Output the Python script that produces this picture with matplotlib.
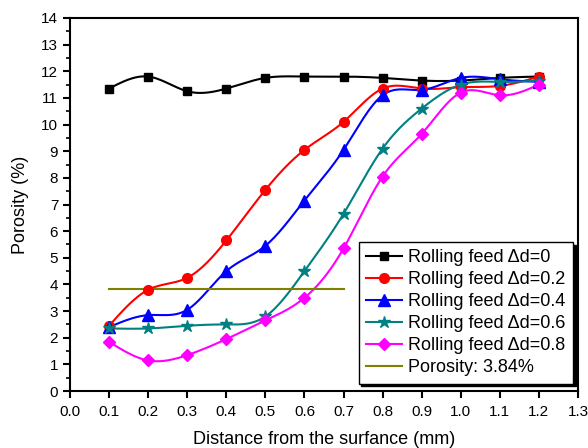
import numpy as np
import matplotlib
matplotlib.use("Agg")
import matplotlib.pyplot as plt
from matplotlib.ticker import MultipleLocator

plt.rcParams['font.family'] = ['Liberation Sans', 'DejaVu Sans']

x = [0.1, 0.2, 0.3, 0.4, 0.5, 0.6, 0.7, 0.8, 0.9, 1.0, 1.1, 1.2]
d0 = [11.35, 11.8, 11.25, 11.35, 11.75, 11.8, 11.8, 11.75, 11.65, 11.65, 11.75, 11.8]
d02 = [2.45, 3.8, 4.25, 5.65, 7.55, 9.05, 10.1, 11.35, 11.35, 11.4, 11.45, 11.8]
d04 = [2.4, 2.85, 3.05, 4.5, 5.45, 7.15, 9.05, 11.1, 11.3, 11.75, 11.7, 11.6]
d06 = [2.35, 2.35, 2.45, 2.5, 2.8, 4.5, 6.65, 9.1, 10.6, 11.5, 11.6, 11.65]
d08 = [1.85, 1.15, 1.35, 1.95, 2.65, 3.5, 5.35, 8.05, 9.65, 11.2, 11.1, 11.5]
threshold = 3.84
threshold_x = [0.1, 0.7]
labels = ["Rolling feed \u0394d=0", "Rolling feed \u0394d=0.2", "Rolling feed \u0394d=0.4",
          "Rolling feed \u0394d=0.6", "Rolling feed \u0394d=0.8", "Porosity: 3.84%"]


def natural_spline(xs, ys, n=300):
    xs = np.asarray(xs, float)
    ys = np.asarray(ys, float)
    m = len(xs)
    h = np.diff(xs)
    A = np.zeros((m, m))
    b = np.zeros(m)
    A[0, 0] = 1
    A[-1, -1] = 1
    for i in range(1, m - 1):
        A[i, i - 1] = h[i - 1]
        A[i, i] = 2 * (h[i - 1] + h[i])
        A[i, i + 1] = h[i]
        b[i] = 6 * ((ys[i + 1] - ys[i]) / h[i] - (ys[i] - ys[i - 1]) / h[i - 1])
    M = np.linalg.solve(A, b)
    xx = np.linspace(xs[0], xs[-1], n)
    idx = np.clip(np.searchsorted(xs, xx) - 1, 0, m - 2)
    x0 = xs[idx]; x1 = xs[idx + 1]; hh = x1 - x0
    y0 = ys[idx]; y1 = ys[idx + 1]
    M0 = M[idx]; M1 = M[idx + 1]
    yy = (M0 * (x1 - xx) ** 3 / (6 * hh) + M1 * (xx - x0) ** 3 / (6 * hh)
          + (y0 / hh - M0 * hh / 6) * (x1 - xx) + (y1 / hh - M1 * hh / 6) * (xx - x0))
    return xx, yy


fig = plt.figure(figsize=(5.88, 4.48), dpi=100)
ax = fig.add_axes([0.119, 0.127, 0.864, 0.833])

series = [
    (d0, 'black', 's', 6),
    (d02, '#FF0000', 'o', 7),
    (d04, '#0000FF', '^', 8),
    (d06, '#008080', '*', 9),
    (d08, '#FF00FF', 'D', 6),
]
handles = []
for (ys, c, mk, ms), lab in zip(series, labels[:5]):
    xx, yy = natural_spline(x, ys)
    ax.plot(xx, yy, color=c, lw=1.5, zorder=2)
    ax.plot(x, ys, linestyle='none', marker=mk, color=c, ms=ms, zorder=3)
    h, = ax.plot([], [], color=c, lw=1.5, marker=mk, ms=ms, label=lab)
    handles.append(h)
ht, = ax.plot(threshold_x, [threshold, threshold], color='#808000', lw=1.5, label=labels[5])
handles.append(ht)

ax.set_xlim(0, 1.3)
ax.set_ylim(0, 14)
ax.xaxis.set_major_locator(MultipleLocator(0.1))
ax.yaxis.set_major_locator(MultipleLocator(1))
ax.yaxis.set_minor_locator(MultipleLocator(0.5))
ax.xaxis.set_major_formatter(matplotlib.ticker.FormatStrFormatter('%.1f'))
ax.tick_params(axis='both', which='major', direction='out', length=5, width=1.5, labelsize=11,
               top=False, right=False)
ax.tick_params(axis='x', which='major', pad=5)
ax.tick_params(axis='y', which='minor', direction='out', length=3, width=1.2, right=False)
for s in ax.spines.values():
    s.set_linewidth(1.5)
ax.set_xlabel("Distance from the surfance (mm)", fontsize=13, labelpad=9)
ax.set_ylabel("Porosity (%)", fontsize=13, labelpad=9)

leg = ax.legend(handles=handles, loc='lower right', bbox_to_anchor=(0.99, 0.02),
                fontsize=13, frameon=True, fancybox=False, shadow={'color': 'black', 'alpha': 1},
                handlelength=2.0, borderpad=0.4, labelspacing=0.28, handletextpad=0.35,
                borderaxespad=0)
leg.get_frame().set_edgecolor('black')
leg.get_frame().set_linewidth(1.0)

fig.savefig("out.png", dpi=100)
